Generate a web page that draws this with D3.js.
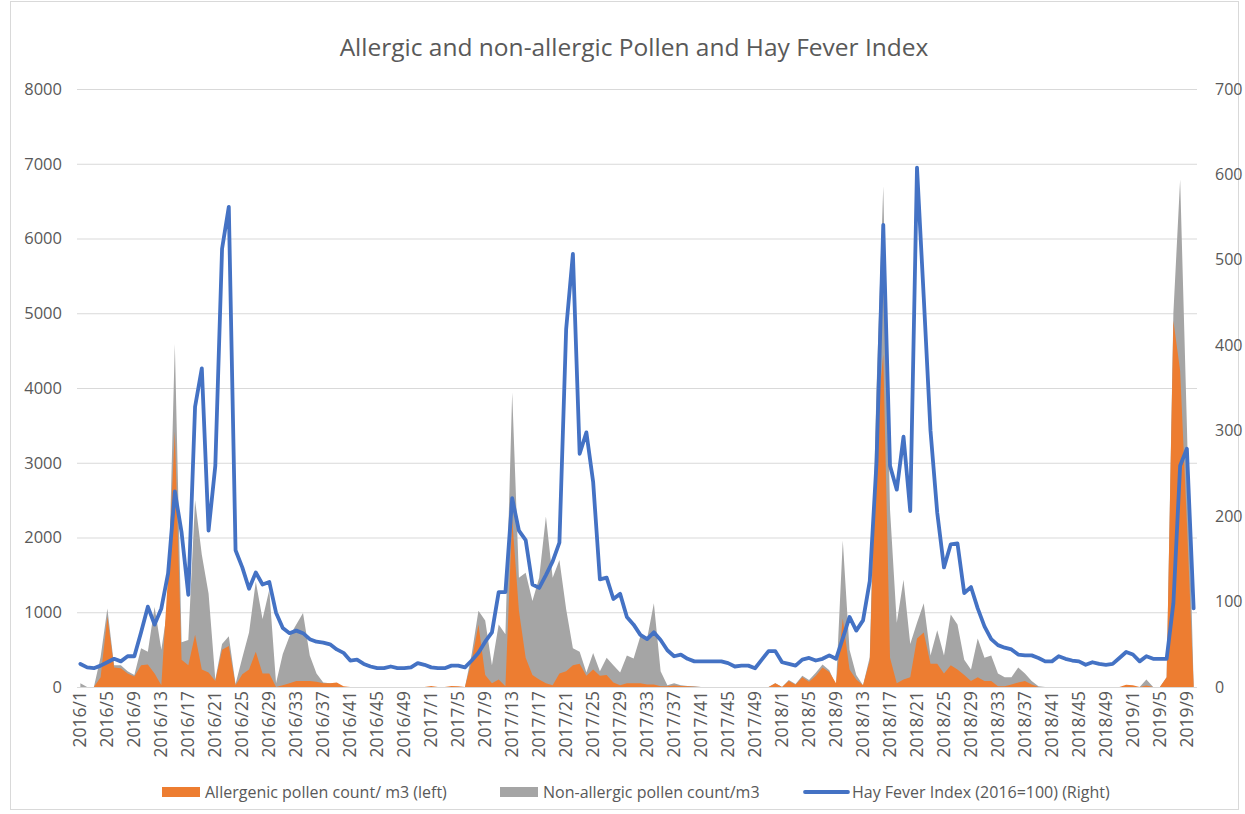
<!DOCTYPE html>
<html>
<head>
<meta charset="utf-8">
<script src="https://cdn.jsdelivr.net/npm/d3@7"></script>
<style>
  body { margin: 0; background: #fff; }
  text { font-family: "Open Sans", "Liberation Sans", Arial, sans-serif; fill: #595959; }
</style>
</head>
<body>
<script>
// weeks per year shown on the category axis
var years = [2016, 2017, 2018, 2019];
var weeksInYear = [52, 52, 52, 10];

// Allergenic pollen count / m3 (left axis)
var allergenic = [
  0,0,0,130,940,260,250,180,140,290,300,180,25,1500,3420,365,290,700,235,195,80,500,550,25,170,235,470,180,180,
  0,25,50,80,80,80,70,50,50,60,10,0,0,0,0,0,0,0,0,0,0,0,0,15,0,0,15,
  10,0,350,835,160,50,100,10,2250,1020,390,160,100,50,25,180,210,290,310,150,235,150,160,60,25,50,50,50,
  35,35,10,10,20,15,10,5,0,0,0,0,0,0,0,0,0,0,0,50,0,80,30,130,70,150,260,200,
  50,915,235,100,25,350,3500,4450,390,50,100,130,650,730,310,310,180,290,235,160,80,130,80,80,10,10,35,60,80,
  35,0,0,0,0,0,0,0,0,0,0,0,0,0,30,25,0,20,0,0,130,4900,4230,2200,30
];

// Non-allergic pollen count / m3 (left axis)
var nonAllergic = [
  50,0,0,400,1050,290,290,210,160,520,470,1070,500,1100,4590,600,630,2500,1770,1250,100,575,680,40,390,730,1410,910,1300,
  50,440,680,835,990,420,180,60,50,40,0,0,0,0,0,0,0,0,0,0,0,0,0,0,0,0,0,
  0,0,440,1020,890,290,835,705,3940,1460,1530,1150,1460,2280,1460,1700,1040,520,470,195,455,210,390,290,195,420,380,680,
  650,1120,210,25,50,25,15,10,0,0,0,0,0,0,0,0,0,0,0,50,0,95,40,150,95,190,300,225,
  25,1960,500,160,25,400,4000,6700,2375,860,1435,575,860,1120,420,760,420,970,835,365,235,650,390,420,180,130,130,260,180,
  80,10,0,0,0,0,0,0,0,0,0,0,0,0,0,0,0,100,0,0,130,5000,6790,3500,30
];

// Hay Fever Index (2016=100), right axis
var hayFever = [
  27,23,22,25,29,33,30,36,36,64,94,73,92,133,229,181,108,328,373,183,259,513,562,160,140,115,134,120,123,
  87,69,63,66,63,56,53,52,50,44,40,31,32,27,24,22,22,24,22,22,23,28,26,23,22,22,25,
  25,23,31,40,53,64,111,111,221,183,172,120,116,131,147,169,419,507,273,298,240,126,128,103,109,82,73,61,
  56,64,55,43,36,38,33,30,30,30,30,30,28,24,25,25,22,32,42,42,29,27,25,32,34,31,33,37,
  33,57,82,66,78,124,263,541,259,231,293,206,608,456,300,204,140,167,168,110,117,92,71,56,49,46,44,38,37,
  37,34,30,30,36,33,31,30,26,29,27,26,27,34,41,38,30,36,33,33,33,98,259,279,92
];

var leftTicks = [0,1000,2000,3000,4000,5000,6000,7000,8000];
var rightTicks = [0,100,200,300,400,500,600,700];

var weeks = [];
years.forEach(function(y, k) {
  for (var w = 1; w <= weeksInYear[k]; w++) weeks.push(y + "/" + w);
});

var W = 1245, H = 814;
var plotL = 77, plotR = 1197, plotT = 89, plotB = 687;

var svg = d3.select("body").append("svg").attr("width", W).attr("height", H);

// chart border
svg.append("rect").attr("x", 10.5).attr("y", 1.5).attr("width", 1228).attr("height", 808)
  .attr("fill", "none").attr("stroke", "#d9d9d9");

var x = d3.scaleBand().domain(weeks).range([plotL, plotR]).padding(0);
var cx = function(d, i) { return x(weeks[i]) + x.bandwidth() / 2; };
var yL = d3.scaleLinear().domain([0, 8000]).range([plotB, plotT]);
var yR = d3.scaleLinear().domain([0, 700]).range([plotB, plotT]);

// gridlines
svg.append("g").selectAll("line").data(leftTicks).join("line")
  .attr("x1", plotL).attr("x2", plotR)
  .attr("y1", d => yL(d) + 0.5).attr("y2", d => yL(d) + 0.5)
  .attr("stroke", "#d9d9d9").attr("stroke-width", 1);

// title
svg.append("text").attr("x", 634).attr("y", 56).attr("text-anchor", "middle")
  .style("font-size", "24.5px").text("Allergic and non-allergic Pollen and Hay Fever Index");

// areas
var area = function(data) {
  return d3.area().x(cx).y0(yL(0)).y1(d => yL(d))(data);
};
svg.append("path").attr("d", area(nonAllergic)).attr("fill", "#a5a5a5");
svg.append("path").attr("d", area(allergenic)).attr("fill", "#ed7d31");

// hay fever line
svg.append("path")
  .attr("d", d3.line().x(cx).y(d => yR(d))(hayFever))
  .attr("fill", "none").attr("stroke", "#4472c4").attr("stroke-width", 3.8)
  .attr("stroke-linejoin", "round").attr("stroke-linecap", "round");

// axes
var gl = svg.append("g").attr("transform", "translate(" + (plotL - 15) + ",0)")
  .call(d3.axisLeft(yL).tickValues(leftTicks).tickFormat(d3.format("d")).tickSize(0).tickPadding(0));
var gr = svg.append("g").attr("transform", "translate(" + (plotR + 18) + ",0)")
  .call(d3.axisRight(yR).tickValues(rightTicks).tickFormat(d3.format("d")).tickSize(0).tickPadding(0));
var gb = svg.append("g").attr("transform", "translate(0," + plotB + ")")
  .call(d3.axisBottom(x).tickValues(weeks.filter((d, i) => i % 4 === 0)).tickSize(0));
[gl, gr, gb].forEach(function(g) {
  g.select(".domain").remove();
  g.selectAll("text").attr("fill", "#595959")
    .style("font-family", "'Open Sans', 'Liberation Sans', Arial, sans-serif");
});
gl.selectAll("text").style("font-size", "16.5px");
gr.selectAll("text").style("font-size", "16px");
gb.selectAll("text")
  .style("font-size", "17.5px")
  .attr("transform", "rotate(-90)")
  .attr("text-anchor", "end")
  .attr("x", -4).attr("y", 0).attr("dy", "0.35em");

// legend
var legend = [
  { label: "Allergenic pollen count/ m3 (left)", color: "#ed7d31", type: "area", x: 162 },
  { label: "Non-allergic pollen count/m3", color: "#a5a5a5", type: "area", x: 500 },
  { label: "Hay Fever Index (2016=100) (Right)", color: "#4472c4", type: "line", x: 805 }
];
var lg = svg.append("g").selectAll("g").data(legend).join("g")
  .attr("transform", d => "translate(" + d.x + ",792)");
lg.filter(d => d.type === "area").append("rect")
  .attr("x", 0).attr("y", -5).attr("width", 38).attr("height", 10).attr("fill", d => d.color);
lg.filter(d => d.type === "line").append("line")
  .attr("x1", 0).attr("x2", 43).attr("y1", 0).attr("y2", 0)
  .attr("stroke", d => d.color).attr("stroke-width", 3.8).attr("stroke-linecap", "round");
lg.append("text").attr("x", d => d.type === "line" ? 47 : 43).attr("y", 0).attr("dy", "0.35em")
  .style("font-size", "16px").text(d => d.label);
</script>
</body>
</html>
